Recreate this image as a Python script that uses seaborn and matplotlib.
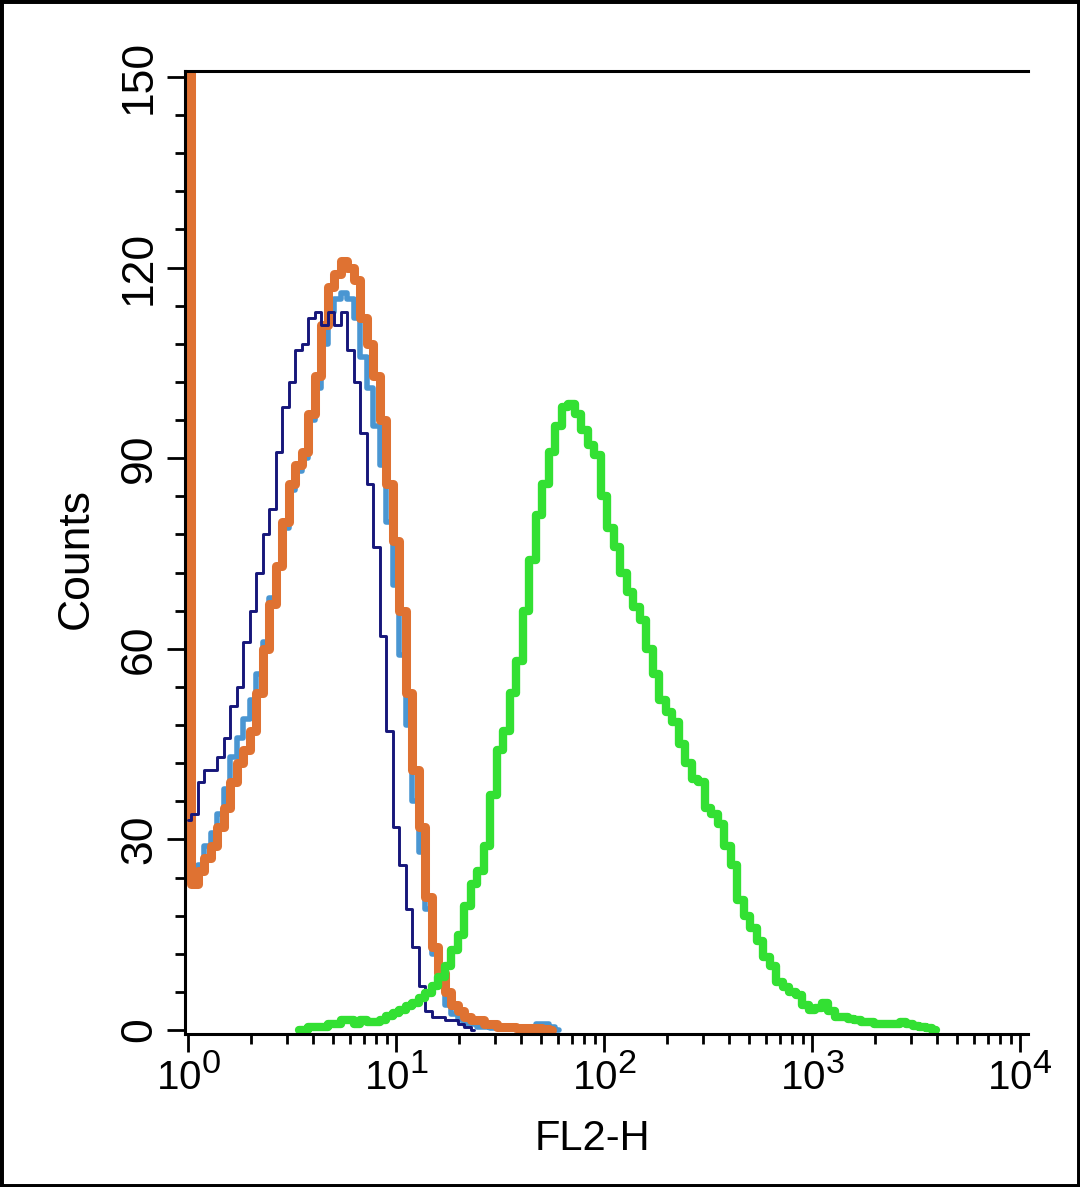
import numpy as np
import pandas as pd
import matplotlib
matplotlib.use("Agg")
import matplotlib.pyplot as plt
import matplotlib.ticker as mticker
from matplotlib.patches import Rectangle
import seaborn as sns

try:
    import matplotlib._mathtext as _mt
    _mt.SHRINK_FACTOR = 0.85
except Exception:
    pass

# ---------------- data ----------------
# histogram channels: 32 channels per decade on FL2-H, channel 0 = 10^0
CHANNELS_PER_DECADE = 32

# thick orange histogram (first channel is off scale)
orange_start = 0
orange_counts = [300, 23, 25, 27, 29, 32, 35, 39, 42, 44, 47, 53, 60, 67, 73, 80,
                 86, 89, 91, 97, 103, 111, 117, 119, 121, 120, 118, 112, 108, 103,
                 96, 86, 77, 66, 53, 41, 32, 21, 13, 9, 6, 4, 3, 2, 1.5, 1.5, 1, 1,
                 0.5, 0.5, 0.5, 0.3, 0.3, 0.3, 0.3, 0.2, 0]

# light blue histogram (mostly under the orange one)
lightblue_start = 0
lightblue_counts = [24, 24, 26, 29, 31, 34, 38, 43, 46, 49, 52, 56, 61, 68, 73, 79,
                    85, 88, 90, 96, 101, 108, 113, 115, 116, 115, 112, 106, 101, 95,
                    89, 80, 70, 59, 48, 36, 28, 19, 12, 7, 4, 2.5, 1.5, 1, 1, 0.5,
                    0.5, 0.3, 0.3, 0.3, 0.3, 0.3, 0.3, 0.5, 1, 1, 0.5, 0]

# thin navy histogram
navy_start = 0
navy_counts = [33, 34, 39, 41, 41, 43, 46, 51, 54, 61, 66, 72, 78, 82, 91, 98, 102,
               107, 108, 112, 113, 111, 113, 111, 113, 107, 102, 94, 86, 76, 62, 47,
               32, 26, 19, 13, 7, 3, 2, 2, 1.5, 1.5, 1, 0.5, 0]

# green histogram (shifted population)
green_start = 17
green_counts = [0, 0, 0.5, 0.5, 0.5, 1, 1, 1.5, 1.5, 1, 1.5, 1.2, 1.2, 1.5, 2.2, 2.7,
                3.2, 3.8, 4.2, 5, 5.8, 7, 8.4, 10, 12.6, 15, 19.5, 23, 25, 29, 37,
                44, 47, 53, 58, 66, 74, 81, 86, 91, 95, 98, 98.5, 97, 94.5, 92, 90.5,
                84, 79, 76, 72, 69, 66.5, 64.5, 60, 56, 52, 50, 48.5, 45, 42, 39.5,
                39, 35, 34, 32.5, 29, 26, 20.5, 18, 16, 14, 11.5, 10, 7.5, 6.8, 6,
                5.5, 4, 3.2, 3.5, 4.2, 3, 2, 2, 1.7, 1.6, 1.3, 1.2, 1, 1, 1, 1, 1.2,
                1, 0.6, 0.4, 0.3, 0]

x_ticks = [1, 10, 100, 1000, 10000]
y_ticks = [0, 30, 60, 90, 120, 150]
x_label = "FL2-H"
y_label = "Counts"

# ---------------- styling ----------------
sns.set_style("ticks")
plt.rcParams["font.family"] = ["Liberation Sans", "DejaVu Sans"]
plt.rcParams["mathtext.fontset"] = "custom"
plt.rcParams["mathtext.rm"] = "Liberation Sans"
plt.rcParams["mathtext.it"] = "Liberation Sans:italic"
plt.rcParams["mathtext.bf"] = "Liberation Sans:bold"
for key in ["text.color", "axes.labelcolor", "xtick.color", "ytick.color",
            "xtick.labelcolor", "ytick.labelcolor"]:
    plt.rcParams[key] = "black"

W, H = 1080, 1187
fig = plt.figure(figsize=(W / 100, H / 100), dpi=100)
fig.patch.set_facecolor("white")
ax = fig.add_axes([185 / W, 153 / H, 843 / W, 963 / H])
ax.set_xscale("log")


def frame(start, counts):
    idx = np.arange(start, start + len(counts))
    return pd.DataFrame({"FL2-H": 10 ** (idx / CHANNELS_PER_DECADE),
                         "Counts": counts})


series = [
    (lightblue_start, lightblue_counts, "#4a96d2", 4.0, 2.0),
    (orange_start, orange_counts, "#df7232", 6.5, 2.1),
    (navy_start, navy_counts, "#16167a", 2.1, 2.2),
    (green_start, green_counts, "#33e033", 6.0, 2.3),
]
for start, counts, color, lw, z in series:
    sns.lineplot(data=frame(start, counts), x="FL2-H", y="Counts", ax=ax,
                 color=color, linewidth=lw, drawstyle="steps-mid",
                 estimator=None, sort=False, legend=False, zorder=z)

ax.set_xscale("log")
ax.set_xlim(10 ** -0.0144, 10 ** 4.038)
ax.set_ylim(-0.63, 150.94)

# spines
for side in ["left", "bottom", "top"]:
    ax.spines[side].set_visible(True)
    ax.spines[side].set_linewidth(2.2)
    ax.spines[side].set_color("black")
ax.spines["right"].set_visible(False)

# ticks
ax.xaxis.set_major_locator(mticker.FixedLocator(x_ticks))
ax.xaxis.set_minor_locator(mticker.LogLocator(base=10, subs=np.arange(2, 10)))
ax.xaxis.set_major_formatter(mticker.FuncFormatter(
    lambda v, p: r"$\mathregular{10^{%d}}$" % int(round(np.log10(v)))))
ax.xaxis.set_minor_formatter(mticker.NullFormatter())
ax.yaxis.set_major_locator(mticker.FixedLocator(y_ticks))
ax.yaxis.set_minor_locator(mticker.MultipleLocator(6))

ax.tick_params(axis="both", which="major", direction="out", length=13, width=2,
               color="black", top=False, right=False)
ax.tick_params(axis="both", which="minor", direction="out", length=7, width=2,
               color="black", top=False, right=False)
ax.tick_params(axis="x", which="major", labelsize=29, pad=2)
ax.tick_params(axis="y", which="major", labelsize=32, pad=5, labelrotation=90)
plt.setp(ax.get_yticklabels(), va="center")

ax.set_xlabel(x_label, fontsize=30)
ax.set_ylabel(y_label, fontsize=32)
ax.xaxis.set_label_coords(0.483, -0.088)
ax.yaxis.set_label_coords(-0.105, 0.494)

# outer frame of the picture
fig.add_artist(Rectangle((0, 0), 1, 1, transform=fig.transFigure, fill=False,
                         edgecolor="black", linewidth=5))

fig.savefig("out.png", dpi=100, facecolor="white")
